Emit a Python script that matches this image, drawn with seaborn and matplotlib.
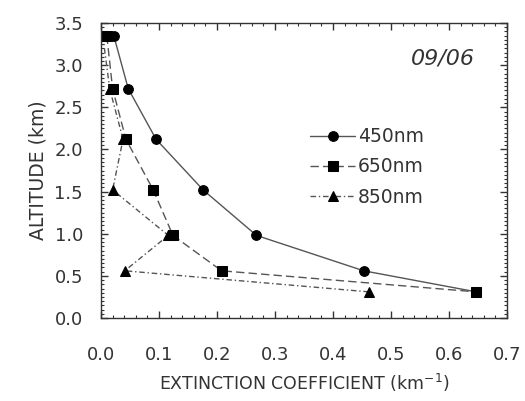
import matplotlib
matplotlib.use("Agg")
import matplotlib.pyplot as plt
from matplotlib.ticker import MultipleLocator
import seaborn as sns
import pandas as pd

altitude = [3.35, 2.72, 2.12, 1.52, 0.98, 0.56, 0.31]
ext_450 = [0.022, 0.047, 0.095, 0.176, 0.268, 0.453, 0.647]
ext_650 = [0.010, 0.020, 0.043, 0.090, 0.124, 0.208, 0.647]
ext_850 = [0.003, 0.015, 0.038, 0.020, 0.116, 0.041, 0.462]
labels = ["450nm", "650nm", "850nm"]

sns.set_style("ticks")
plt.rcParams['font.family'] = ['DejaVu Sans']

fig = plt.figure(figsize=(5.25, 4.01), dpi=100)
ax = fig.add_axes([101/525, 1 - 318/401, 406/525, 295/401])

styles = [
    (ext_450, "o", "-", 7),
    (ext_650, "s", (0, (6, 3)), 6.5),
    (ext_850, "^", (0, (4, 2, 1, 2)), 6.5),
]
for (vals, mk, ls, ms), lab in zip(styles, labels):
    df = pd.DataFrame({"x": vals, "y": altitude})
    sns.lineplot(data=df, x="x", y="y", sort=False, ax=ax, color="#555555",
                 linewidth=1.0, linestyle=ls, marker=mk, markersize=ms,
                 markerfacecolor="black", markeredgecolor="black", label=lab)

tc = "#333333"
ax.set_xlim(0, 0.7)
ax.set_ylim(0, 3.5)
ax.xaxis.set_major_locator(MultipleLocator(0.1))
ax.xaxis.set_minor_locator(MultipleLocator(0.02))
ax.yaxis.set_major_locator(MultipleLocator(0.5))
ax.yaxis.set_minor_locator(MultipleLocator(0.05))
ax.tick_params(which="both", direction="in", top=True, right=True, labelsize=13, colors=tc)
ax.tick_params(which="major", length=5, width=1)
ax.tick_params(which="minor", length=2.5, width=0.8)
ax.tick_params(axis="x", pad=20)
ax.tick_params(axis="y", pad=13)
for sp in ax.spines.values():
    sp.set_linewidth(1.0)
    sp.set_color(tc)

ax.set_xlabel("EXTINCTION COEFFICIENT (km$^{-1}$)", fontsize=12.5, labelpad=6, color=tc)
ax.set_ylabel("ALTITUDE (km)", fontsize=13.5, labelpad=5, color=tc)
ax.text(0.645, 3.08, "09/06", fontsize=16, style="italic", ha="right", va="center", color=tc)

leg = ax.legend(loc="center left", bbox_to_anchor=(0.515, 0.512), frameon=False,
                borderpad=0, borderaxespad=0,
                fontsize=13.5, handlelength=2.4, handletextpad=0.15, labelspacing=0.6)
for t in leg.get_texts():
    t.set_color(tc)

fig.savefig("out.png", dpi=100)
